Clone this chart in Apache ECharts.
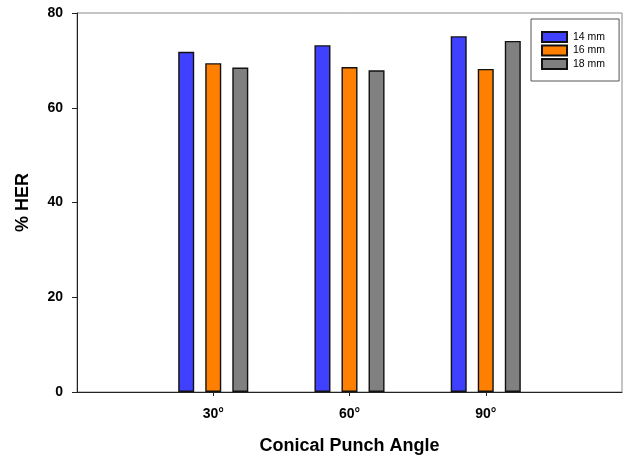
<!DOCTYPE html>
<html>
<head>
<meta charset="utf-8">
<script src="https://cdn.jsdelivr.net/npm/echarts@6/dist/echarts.min.js"></script>
<style>html,body{margin:0;padding:0;background:#fff}#c{width:624px;height:461px}</style>
</head>
<body>
<div id="c"></div>
<script>
const categories = ['', '30°', '60°', '90°', ''];
const seriesNames = ['14 mm', '16 mm', '18 mm'];
const her14 = [null, 71.8, 73.2, 75.1, null];
const her16 = [null, 69.4, 68.6, 68.2, null];
const her18 = [null, 68.5, 67.9, 74.1, null];
const yTicks = [0, 20, 40, 60, 80];

const colors = ['#4040ff', '#ff8000', '#808080'];
const dataSets = [her14, her16, her18];
const font = 'Arial, "Liberation Sans", Helvetica, sans-serif';

const chart = echarts.init(document.getElementById('c'));
chart.setOption({
  animation: false,
  backgroundColor: '#fff',
  grid: { left: 77, right: 2, top: 13, bottom: 69, show: true, borderColor: '#8a8a8a', borderWidth: 1 },
  legend: {
    left: 531, top: 19, orient: 'vertical',
    padding: [12, 14, 11, 10],
    itemWidth: 25, itemHeight: 10, itemGap: 1.5,
    icon: 'rect',
    borderColor: '#555', borderWidth: 1, backgroundColor: '#fff',
    textStyle: { fontFamily: font, fontSize: 10.5, lineHeight: 11, color: '#000', padding: [0, 0, 0, 1] },
    data: seriesNames
  },
  xAxis: {
    type: 'category', data: categories, boundaryGap: false,
    name: 'Conical Punch Angle', nameLocation: 'middle', nameGap: 45,
    nameTextStyle: { fontFamily: font, fontSize: 18, fontWeight: 'bold', color: '#000' },
    axisLine: { lineStyle: { color: '#222', width: 1 } },
    axisTick: { show: true, length: 4, inside: false, interval: function (i, v) { return v !== ''; }, lineStyle: { color: '#222' } },
    axisLabel: { fontFamily: font, fontSize: 14, fontWeight: 'bold', color: '#000', margin: 15, interval: function (i, v) { return v !== ''; } },
    splitLine: { show: false }
  },
  yAxis: {
    type: 'value', min: yTicks[0], max: yTicks[yTicks.length - 1], interval: 20,
    name: '% HER', nameLocation: 'middle', nameGap: 45, nameRotate: 90,
    nameTextStyle: { fontFamily: font, fontSize: 18, fontWeight: 'bold', color: '#000' },
    axisLine: { show: true, lineStyle: { color: '#222', width: 1 } },
    axisTick: { show: true, length: 5, inside: false, lineStyle: { color: '#222' } },
    axisLabel: { fontFamily: font, fontSize: 14, fontWeight: 'bold', color: '#000', margin: 14 },
    splitLine: { show: false }
  },
  series: seriesNames.map((n, i) => ({
    name: n, type: 'bar', data: dataSets[i],
    barWidth: 16, barGap: '69%',
    itemStyle: { color: colors[i], borderColor: '#111', borderWidth: 1.4 }
  }))
});
</script>
</body>
</html>
